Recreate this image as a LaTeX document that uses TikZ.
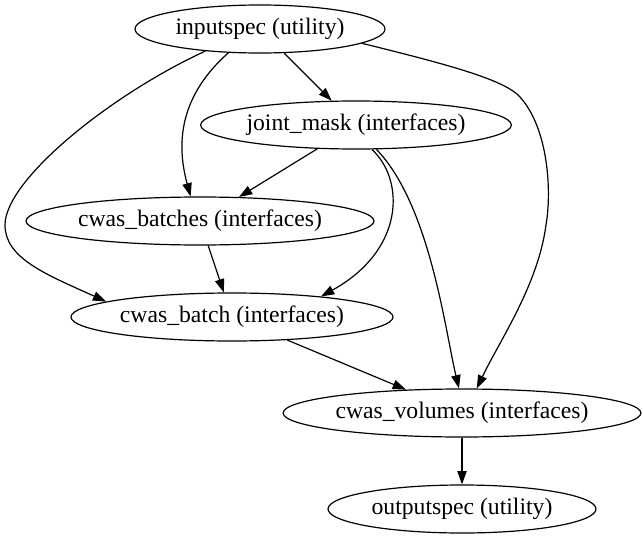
\documentclass[tikz,border=0pt]{standalone}
\usepackage{fontspec}
\setmainfont{Liberation Serif}
\usetikzlibrary{shapes.geometric,arrows.meta}
\begin{document}
\begin{tikzpicture}[x=0.75pt,y=-0.75pt,
  nd/.style={draw,ellipse,line width=0.9pt,inner sep=0pt,minimum height=36pt,
    font=\fontsize{17.75}{20}\selectfont},
  ed/.style={-{Triangle[length=10pt,width=7pt]},line width=0.9pt}]
\useasboundingbox (0,0) rectangle (643,539);
\node[nd,minimum width=187.5pt] (in)  at (260,29)  {inputspec (utility)};
\node[nd,minimum width=233pt]   (jm)  at (356,125) {joint\_mask (interfaces)};
\node[nd,minimum width=261pt]   (cbs) at (200,221) {cwas\_batches (interfaces)};
\node[nd,minimum width=241.5pt] (cb)  at (232,317) {cwas\_batch (interfaces)};
\node[nd,minimum width=267pt]   (cv)  at (462,413) {cwas\_volumes (interfaces)};
\node[nd,minimum width=201pt]   (out) at (462,509) {outputspec (utility)};
\coordinate (p1) at (5,225);
\coordinate (p2) at (520,97);
\coordinate (p3) at (546,225);
\draw[ed] (in) -- (jm);
\draw[ed] (in.217) .. controls (175,100) and (178,150) .. (cbs.111);
\draw[ed] (in.202) .. controls (110,95) and (5,180) .. (p1) .. controls (5,258) and (45,274) .. (cb.173);
\draw[ed] (in.352) .. controls (450,65) and (505,80) .. (p2) .. controls (548,128) and (552,190) .. (p3) .. controls (538,285) and (500,340) .. (cv.59);
\draw[ed] (jm) -- (cbs);
\draw[ed] (jm.303) .. controls (405,180) and (405,250) .. (cb.13);
\draw[ed] (jm.310) .. controls (430,205) and (445,330) .. (cv.97);
\draw[ed] (cbs) -- (cb);
\draw[ed] (cb) -- (cv);
\draw[ed] (cv) -- (out);
\end{tikzpicture}
\end{document}
